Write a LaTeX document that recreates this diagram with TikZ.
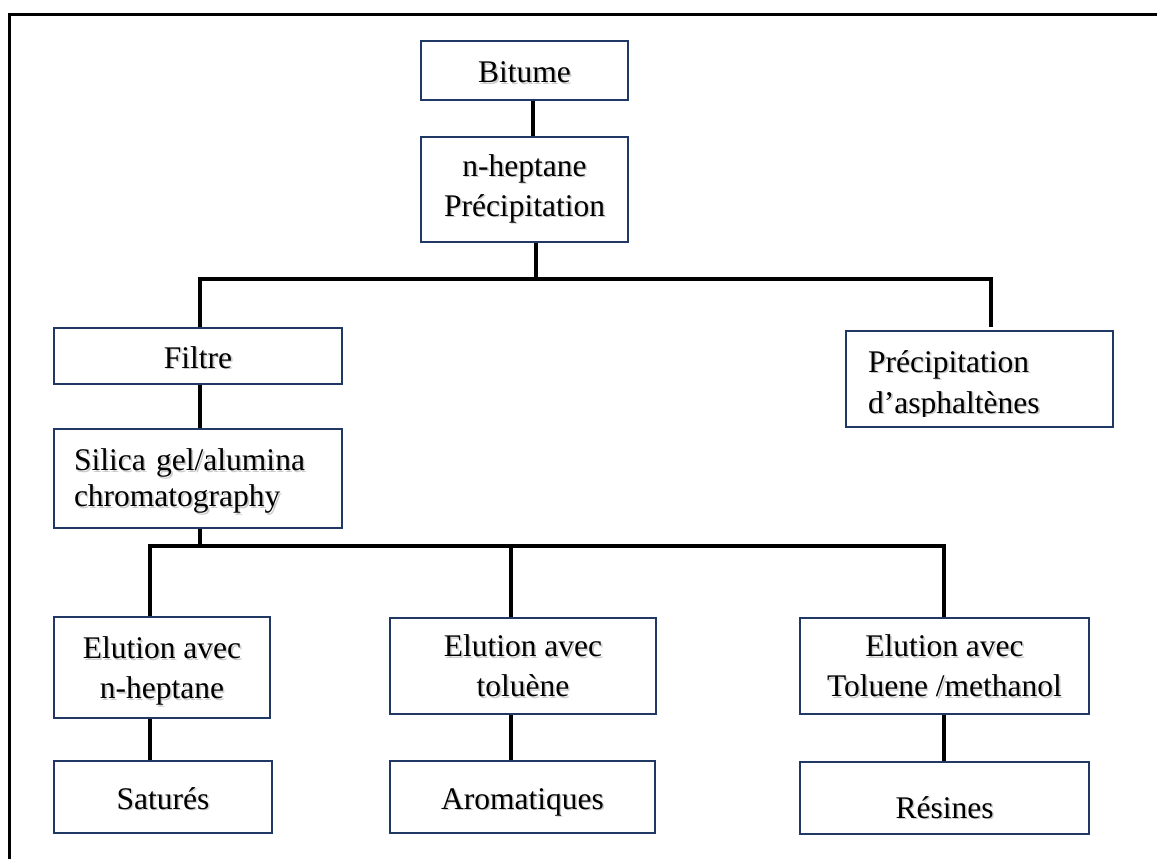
\documentclass[tikz,border=0pt]{standalone}
\usepackage{fontspec}
\setmainfont{Liberation Serif}
\definecolor{navy}{RGB}{32,56,100}
% text with a soft offset shadow behind it
\newcommand\sh[1]{\makebox[0pt][l]{\hspace{1.6pt}\raisebox{-1.6pt}{\textcolor{black!20}{#1}}}#1}
\begin{document}
\begin{tikzpicture}[x=1pt,y=-1pt,
  box/.style={draw=navy, line width=2pt, fill=white, inner sep=0pt,
              align=center, font=\fontsize{31.5}{40}\selectfont},
  oneline/.style={text height=28pt, text depth=4pt},
  twoline/.style={text depth=0pt},
  txt/.style={inner sep=0pt, font=\fontsize{31.5}{40}\selectfont},
  link/.style={line width=3.6pt, black, line join=miter},
]
\useasboundingbox (0,0) rectangle (1157,859);

% outer frame (top and left edges)
\draw[line width=3pt] (1160,14.5) -- (9.3,14.5) -- (9.3,862);

% boxes
\node[box, oneline, minimum width=207pt, minimum height=59pt] (bitume) at (524.5,70.5) {\sh{Bitume}};
\node[box, minimum width=207pt, minimum height=105pt] (nhep) at (524.5,189.5)
  {\sh{n-heptane}\\\sh{Précipitation}};
\node[box, oneline, minimum width=288pt, minimum height=56pt] (filtre) at (198,356) {\sh{Filtre}};
\node[box, minimum width=288pt, minimum height=99pt, text width=248pt, align=left,
      text depth=37pt, font=\fontsize{31.5}{36}\selectfont] (silica) at (198,478)
  {\sh{Silica gel/alumina}\\\sh{chromatography}};
\node[box, minimum width=267pt, minimum height=96pt] (precip) at (979,379) {};
\begin{scope}
  \clip (847,332) rectangle (1112,416);
  \node[txt, anchor=base west] (precip1) at (868,372) {\sh{Précipitation}};
  \node[txt, anchor=base west] (precip2) at (868,413) {\sh{d’asphaltènes}};
\end{scope}

\node[box, twoline, minimum width=216pt, minimum height=101pt] (el1) at (162,667.5)
  {\sh{Elution avec}\\\sh{n-heptane}};
\node[box, twoline, minimum width=266pt, minimum height=96pt] (el2) at (523,666)
  {\sh{Elution avec}\\\sh{toluène}};
\node[box, twoline, minimum width=289pt, minimum height=96pt] (el3) at (944.5,666)
  {\sh{Elution avec}\\\sh{Toluene /methanol}};

\node[box, oneline, minimum width=218pt, minimum height=72pt] (sat) at (163,797) {\sh{Saturés}};
\node[box, oneline, minimum width=265pt, minimum height=72pt] (aro) at (522.5,797) {\sh{Aromatiques}};
\node[box, minimum width=289pt, minimum height=72pt] (res) at (944.5,798)
  {\raisebox{-10pt}[\height][\depth]{\sh{Résines}}};

% junction points of the branching lines
\coordinate (j1) at (536,279);
\coordinate (jl) at (200,279);
\coordinate (jr) at (991,279);
\coordinate (jrend) at (991,327);
\coordinate (k) at (200,546);
\coordinate (kl) at (150,546);
\coordinate (km) at (511,546);
\coordinate (kr) at (944,546);

% connectors
\draw[link] ([xshift=8.5pt]bitume.south) -- ([xshift=8.5pt]nhep.north);
\draw[link] (nhep.south -| j1) -- (j1);
\draw[link] (filtre.north -| jl) -- (jl) -- (jr) -- (jrend);
\draw[link] (filtre.south -| jl) -- (silica.north -| jl);
\draw[link] (silica.south -| k) -- (k);
\draw[link] (el1.north -| kl) -- (kl) -- (kr) -- (el3.north -| kr);
\draw[link] (km) -- (el2.north -| km);
\draw[link] (el1.south -| kl) -- (sat.north -| kl);
\draw[link] (el2.south -| km) -- (aro.north -| km);
\draw[link] (el3.south -| kr) -- (res.north -| kr);
\end{tikzpicture}
\end{document}
